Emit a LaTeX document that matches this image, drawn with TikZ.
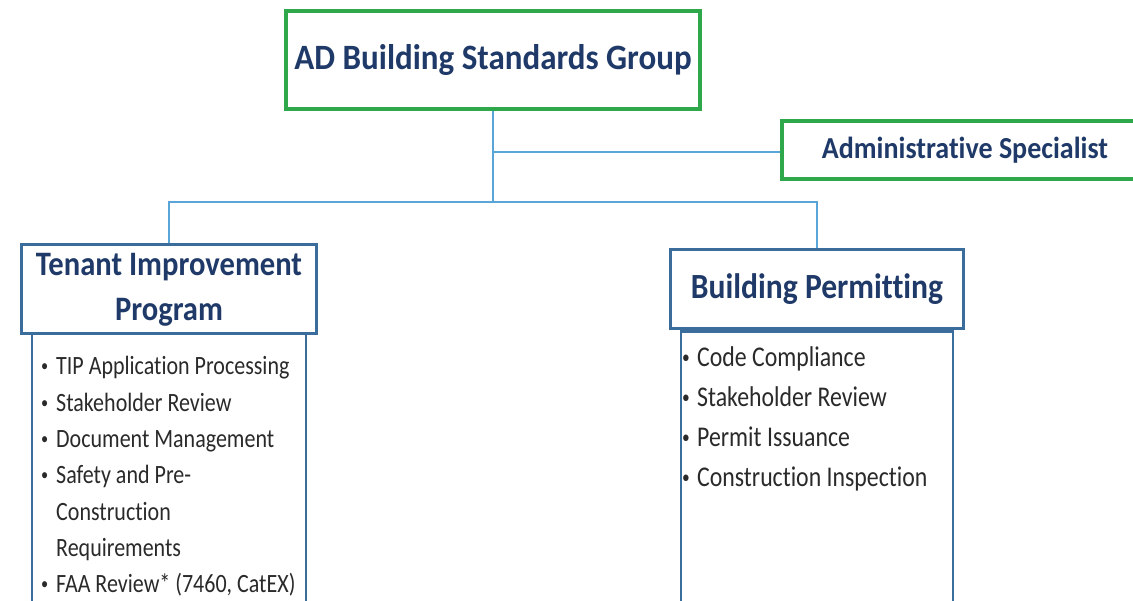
\documentclass[tikz,border=0pt]{standalone}
\usepackage{fontspec}
\setmainfont{Carlito}[Ligatures=NoCommon]
\usepackage{graphicx}
\definecolor{navy}{HTML}{1F3A68}
\definecolor{boxgreen}{HTML}{2EA84A}
\definecolor{boxblue}{HTML}{3A6C9C}
\definecolor{linkblue}{HTML}{5AA5D8}
\definecolor{bodytext}{HTML}{2A2A2A}
\tikzset{
  greenbox/.style={draw=boxgreen, line width=3.5pt, fill=white, inner sep=0pt},
  bluebox/.style={draw=boxblue, line width=2.8pt, fill=white, inner sep=0pt},
  listbox/.style={draw=boxblue, line width=2.8pt, fill=white, inner sep=0pt},
  link/.style={draw=linkblue, line width=2.2pt},
  listtext/.style={inner sep=0pt, anchor=base west, text=bodytext},
}
\newcommand{\bul}{\makebox[15pt][l]{\raisebox{0.12em}{\scalebox{0.65}{•}}}}
\newcommand{\ind}{\hspace*{15pt}}
\begin{document}
\begin{tikzpicture}[x=1pt,y=1pt]
\useasboundingbox (0,0) rectangle (1133,601);
\coordinate (j1) at (493,449);
\coordinate (j2) at (493,399);
% boxes
\node[greenbox, minimum width=414pt, minimum height=98pt, font=\bfseries\fontsize{33}{38}\selectfont, text=navy] (top) at (493,541) {\scalebox{1}[1.08]{AD Building Standards Group}};
\node[greenbox, minimum width=366pt, minimum height=58pt, font=\bfseries\fontsize{28}{32}\selectfont, text=navy] (admin) at (965,451) {\scalebox{1}[1.09]{Administrative Specialist}};
% list boxes
\node[listbox, minimum width=274pt, minimum height=290pt, anchor=north] (tiplist) at (169,271) {};
\node[listbox, minimum width=272pt, minimum height=290pt, anchor=north] (bplist) at (817,271) {};
% header boxes
\node[bluebox, minimum width=295pt, minimum height=79pt, font=\bfseries\fontsize{30.6}{40}\selectfont, text=navy] (tip) at (169,312) {\scalebox{1}[1.12]{\begin{tabular}{@{}c@{}}Tenant Improvement\\Program\end{tabular}}};
\node[bluebox, minimum width=293pt, minimum height=79pt, font=\bfseries\fontsize{31.6}{38}\selectfont, text=navy] (bp) at (817,312) {\scalebox{1}[1.12]{Building Permitting}};
% connectors
\draw[link] (top.south) -- (j2);
\draw[link] (j1) -- (j1 -| admin.west);
\draw[link] (tip.north) |- (j2) -| (bp.north);
% list texts
\node[listtext, font=\fontsize{22}{30.25}\selectfont] (tipitems) at (41,226) {\scalebox{1}[1.2]{\begin{tabular}[t]{@{}l@{}}
\bul TIP Application Processing\\
\bul Stakeholder Review\\
\bul Document Management\\
\bul Safety and Pre-\\
\ind Construction\\
\ind Requirements\\
\bul FAA Review* (7460, CatEX)
\end{tabular}}};
\node[listtext, font=\fontsize{23.8}{33.3}\selectfont] (bpitems) at (682,234) {\scalebox{1}[1.2]{\begin{tabular}[t]{@{}l@{}}
\bul Code Compliance\\
\bul Stakeholder Review\\
\bul Permit Issuance\\
\bul Construction Inspection
\end{tabular}}};
\end{tikzpicture}
\end{document}
